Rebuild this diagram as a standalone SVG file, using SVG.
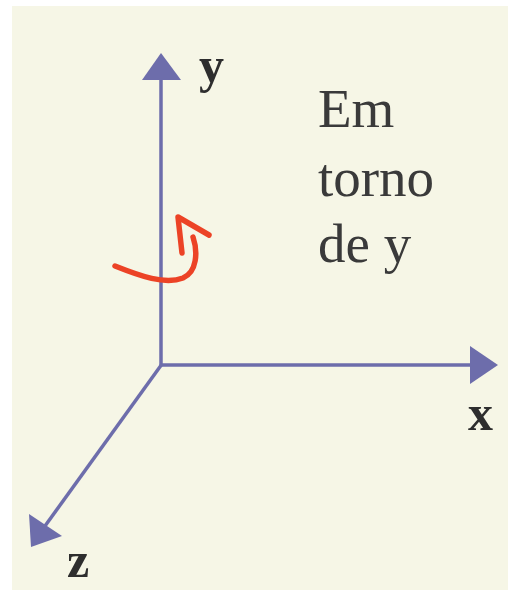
<svg xmlns="http://www.w3.org/2000/svg" width="508" height="590" viewBox="0 0 508 590">
<style>
.axis{stroke:#6d6dab;stroke-width:3.5;fill:none}
.head{fill:#6d6dab}
.lbl{font-family:"Liberation Serif","Times New Roman",serif;font-weight:bold;font-size:50px;fill:#2e2e2e}
.txt{font-family:"Liberation Serif","Times New Roman",serif;font-size:55px;fill:#3a3a3a}
.rot{stroke:#ec4326;stroke-width:5.5;fill:none;stroke-linecap:round;stroke-linejoin:round}
</style>
<rect x="0" y="0" width="508" height="590" fill="#ffffff"/>
<rect x="12" y="6" width="496" height="584" fill="#f6f6e6"/>
<g id="connectors">
<line class="axis" x1="161" y1="366" x2="161" y2="78"/>
<polygon class="head" points="142,80 181,80 161,53"/>
<line class="axis" x1="161" y1="365" x2="472" y2="365"/>
<polygon class="head" points="470,346 470,384 498,365"/>
<line class="axis" x1="162" y1="364" x2="45" y2="526"/>
<polygon class="head" points="31,547 29,514 62,536"/>
</g>
<g id="rotation">
<path class="rot" d="M115,266 C140,276 165,285 183,278 C197,272 198,252 193,237"/>
<polyline class="rot" points="182,253 178,217 209,235"/>
</g>
<g id="label-y"><text class="lbl" x="199" y="82">y</text></g>
<g id="label-x"><text class="lbl" x="468" y="430">x</text></g>
<g id="label-z"><text class="lbl" x="67" y="577">z</text></g>
<g id="caption">
<text class="txt" x="318" y="127">Em</text>
<text class="txt" x="318" y="196">torno</text>
<text class="txt" x="318" y="262">de y</text>
</g>
</svg>
